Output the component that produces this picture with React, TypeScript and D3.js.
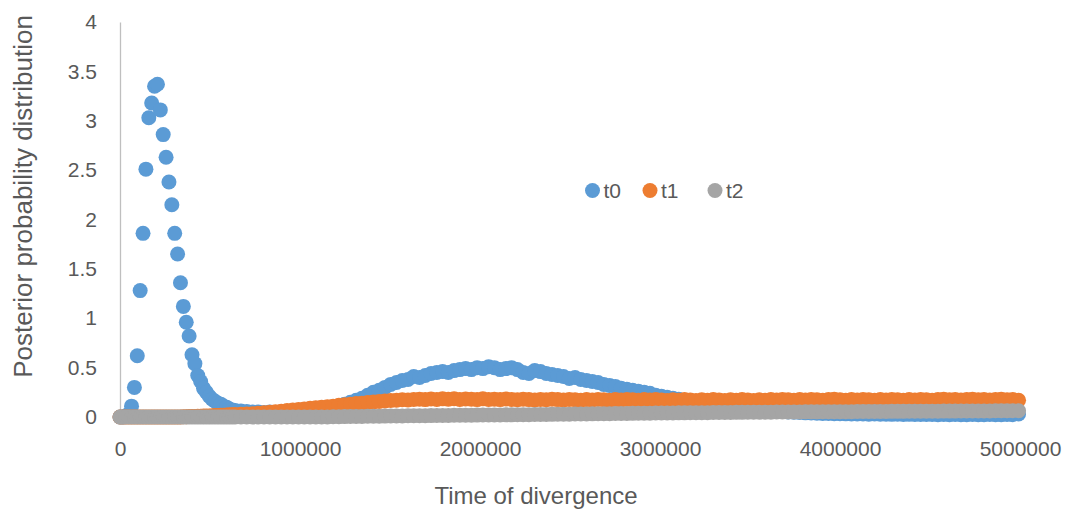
import * as d3 from "d3";
import { useEffect, useRef } from "react";

// time of divergence, in thousands (dense grid near the early peak, coarser after)
const timeThousands = [
  0, 16, 32, 48, 64, 80, 96, 112, 128, 144,
  160, 176, 192, 208, 224, 240, 256, 272, 288, 304,
  320, 336, 352, 368, 384, 400, 416, 432, 448, 464,
  480, 496, 512, 528, 544, 560, 576, 592, 608, 624,
  640,
  672, 704, 736, 768, 800, 832, 864, 896,
  928, 960, 992, 1024, 1056, 1088, 1120, 1152,
  1184, 1216, 1248, 1280, 1312, 1344, 1376, 1408,
  1440, 1472, 1504, 1536, 1568, 1600, 1632, 1664,
  1696, 1728, 1760, 1792, 1824, 1856, 1888, 1920,
  1952, 1984, 2016, 2048, 2080, 2112, 2144, 2176,
  2208, 2240, 2272, 2304, 2336, 2368, 2400, 2432,
  2464, 2496, 2528, 2560, 2592, 2624, 2656, 2688,
  2720, 2752, 2784, 2816, 2848, 2880, 2912, 2944,
  2976, 3008, 3040, 3072, 3104, 3136, 3168, 3200,
  3232, 3264, 3296, 3328, 3360, 3392, 3424, 3456,
  3488, 3520, 3552, 3584, 3616, 3648, 3680, 3712,
  3744, 3776, 3808, 3840, 3872, 3904, 3936, 3968,
  4000, 4032, 4064, 4096, 4128, 4160, 4192, 4224,
  4256, 4288, 4320, 4352, 4384, 4416, 4448, 4480,
  4512, 4544, 4576, 4608, 4640, 4672, 4704, 4736,
  4768, 4800, 4832, 4864, 4896, 4928, 4960, 4992,
];

const t0Values = [
  0, 0, 0.01, 0.03, 0.11, 0.30, 0.62, 1.28, 1.86, 2.51,
  3.03, 3.18, 3.35, 3.37, 3.11, 2.86, 2.63, 2.38, 2.15, 1.86,
  1.65, 1.36, 1.12, 0.96, 0.82, 0.63, 0.54, 0.42, 0.36, 0.29,
  0.25, 0.21, 0.18, 0.16, 0.14, 0.13, 0.11, 0.10, 0.08, 0.07,
  0.065,
  0.06, 0.055, 0.05, 0.05, 0.045, 0.05, 0.045, 0.05,
  0.05, 0.05, 0.055, 0.05, 0.055, 0.06, 0.065, 0.075,
  0.09, 0.11, 0.13, 0.15, 0.17, 0.19, 0.22, 0.25,
  0.27, 0.30, 0.33, 0.35, 0.37, 0.38, 0.41, 0.40,
  0.42, 0.44, 0.45, 0.46, 0.45, 0.47, 0.48, 0.49,
  0.48, 0.50, 0.49, 0.51, 0.50, 0.48, 0.49, 0.50,
  0.48, 0.45, 0.44, 0.47, 0.46, 0.44, 0.43, 0.42,
  0.41, 0.39, 0.40, 0.38, 0.37, 0.36, 0.35, 0.33,
  0.32, 0.31, 0.29, 0.28, 0.27, 0.26, 0.25, 0.24,
  0.22, 0.21, 0.20, 0.19, 0.18, 0.17, 0.16, 0.155,
  0.145, 0.135, 0.13, 0.12, 0.11, 0.105, 0.10, 0.09,
  0.085, 0.08, 0.075, 0.07, 0.065, 0.06, 0.055, 0.05,
  0.048, 0.045, 0.042, 0.04, 0.038, 0.036, 0.035, 0.034,
  0.033, 0.032, 0.03, 0.031, 0.03, 0.029, 0.03, 0.028,
  0.028, 0.027, 0.028, 0.026, 0.027, 0.025, 0.026, 0.025,
  0.025, 0.024, 0.026, 0.024, 0.025, 0.023, 0.024, 0.025,
  0.024, 0.023, 0.025, 0.024, 0.023, 0.025, 0.024, 0.03,
];

const t1Values = [
  0, 0, 0, 0, 0, 0, 0, 0, 0, 0,
  0, 0, 0, 0, 0, 0, 0, 0, 0, 0,
  0, 0.001, 0.002, 0.003, 0.004, 0.005, 0.006, 0.007, 0.008, 0.009,
  0.01, 0.011, 0.012, 0.014, 0.016, 0.017, 0.018, 0.02, 0.022, 0.024,
  0.025,
  0.027, 0.03, 0.034, 0.038, 0.042, 0.047, 0.052, 0.058,
  0.065, 0.07, 0.076, 0.082, 0.088, 0.094, 0.10, 0.105,
  0.11, 0.118, 0.124, 0.13, 0.136, 0.14, 0.148, 0.152,
  0.158, 0.162, 0.168, 0.17, 0.175, 0.172, 0.178, 0.18,
  0.176, 0.182, 0.178, 0.184, 0.18, 0.186, 0.178, 0.182,
  0.18, 0.176, 0.184, 0.178, 0.18, 0.176, 0.182, 0.178,
  0.175, 0.18, 0.176, 0.172, 0.178, 0.174, 0.18, 0.176,
  0.172, 0.178, 0.174, 0.17, 0.176, 0.172, 0.178, 0.174,
  0.17, 0.176, 0.172, 0.178, 0.174, 0.17, 0.176, 0.172,
  0.178, 0.172, 0.168, 0.174, 0.17, 0.176, 0.172, 0.168,
  0.174, 0.17, 0.176, 0.172, 0.168, 0.174, 0.17, 0.176,
  0.172, 0.168, 0.174, 0.17, 0.176, 0.172, 0.178, 0.174,
  0.17, 0.176, 0.172, 0.178, 0.174, 0.17, 0.176, 0.18,
  0.174, 0.17, 0.176, 0.172, 0.178, 0.174, 0.17, 0.176,
  0.172, 0.178, 0.174, 0.17, 0.176, 0.172, 0.178, 0.174,
  0.17, 0.176, 0.18, 0.174, 0.178, 0.172, 0.176, 0.18,
  0.174, 0.178, 0.172, 0.176, 0.18, 0.174, 0.178, 0.17,
];

const t2Values = [
  0, 0, 0, 0, 0, 0, 0, 0, 0, 0,
  0, 0, 0, 0, 0, 0, 0, 0, 0, 0,
  0, 0, 0, 0, 0, 0, 0, 0, 0, 0,
  0, 0, 0, 0, 0, 0, 0, 0, 0, 0,
  0,
  0, 0, 0, 0, 0, 0, 0, 0,
  0, 0, 0, 0, 0, 0, 0, 0,
  0.002, 0.003, 0.004, 0.005, 0.006, 0.006, 0.007, 0.008,
  0.008, 0.009, 0.01, 0.01, 0.011, 0.012, 0.012, 0.013,
  0.013, 0.014, 0.015, 0.015, 0.016, 0.017, 0.017, 0.018,
  0.018, 0.019, 0.02, 0.02, 0.021, 0.021, 0.022, 0.022,
  0.023, 0.024, 0.024, 0.025, 0.026, 0.026, 0.027, 0.028,
  0.028, 0.029, 0.03, 0.031, 0.031, 0.032, 0.033, 0.034,
  0.034, 0.035, 0.036, 0.036, 0.037, 0.038, 0.038, 0.039,
  0.04, 0.04, 0.041, 0.041, 0.042, 0.042, 0.043, 0.043,
  0.044, 0.044, 0.045, 0.045, 0.046, 0.046, 0.047, 0.047,
  0.048, 0.048, 0.048, 0.049, 0.049, 0.05, 0.05, 0.05,
  0.051, 0.051, 0.052, 0.052, 0.052, 0.053, 0.053, 0.053,
  0.054, 0.054, 0.054, 0.055, 0.055, 0.055, 0.056, 0.056,
  0.056, 0.057, 0.057, 0.057, 0.058, 0.058, 0.058, 0.059,
  0.059, 0.059, 0.06, 0.06, 0.06, 0.061, 0.061, 0.061,
  0.062, 0.062, 0.062, 0.063, 0.063, 0.063, 0.064, 0.064,
];

const seriesNames = ["t0", "t1", "t2"];
const seriesColors = ["#5B9BD5", "#ED7D31", "#A5A5A5"];
const xTicks = [0, 1000000, 2000000, 3000000, 4000000, 5000000];
const yTicks = [0, 0.5, 1, 1.5, 2, 2.5, 3, 3.5, 4];

const FONT = "'Liberation Sans', Arial, sans-serif";
const TEXT = "#595959";

export default function App() {
  const refSvg = useRef<SVGSVGElement>(null);

  useEffect(() => {
    const margin = { top: 22, left: 120, right: 52, bottom: 97 };
    const svgWidth = 1072;
    const svgHeight = 514;
    const width = svgWidth - margin.left - margin.right;
    const height = svgHeight - margin.top - margin.bottom;

    const svg = d3.select(refSvg.current);
    svg.selectAll("*").remove();

    const g = svg.append("g")
      .attr("transform", `translate(${margin.left},${margin.top})`);

    //    ---------------   SCALES  ------------------------

    const X = d3.scaleLinear().domain([0, 5000000]).range([0, width]);
    const Y = d3.scaleLinear().domain([0, 4]).range([height, 0]);

    //    ---------------   AXES  ------------------------

    const gx = g.append("g")
      .attr("transform", `translate(0,${height})`)
      .call(
        d3.axisBottom(X)
          .tickValues(xTicks)
          .tickSize(0)
          .tickPadding(24)
          .tickFormat(d3.format("d"))
      );

    const gy = g.append("g")
      .call(
        d3.axisLeft(Y)
          .tickValues(yTicks)
          .tickSize(0)
          .tickPadding(23)
          .tickFormat((d) => String(d))
      );

    [gx, gy].forEach((ax) => {
      ax.select(".domain").attr("stroke", "#BFBFBF").attr("stroke-width", 1.3);
      ax.selectAll("text")
        .attr("fill", TEXT)
        .style("font-family", FONT)
        .style("font-size", "21px");
    });

    //   -----------------------   DATA POINTS   ------------------------

    const series = [t0Values, t1Values, t2Values];

    series.forEach((values, s) => {
      g.append("g")
        .selectAll("circle")
        .data(values)
        .join("circle")
        .attr("cx", (d, i) => X(timeThousands[i] * 1000))
        .attr("cy", (d) => Y(d))
        .attr("r", 7.5)
        .attr("fill", seriesColors[s]);
    });

    //   -----------------------   LEGEND   ------------------------

    const legendX = [592.5, 650, 715];
    const legend = svg.append("g");
    seriesNames.forEach((name, s) => {
      legend.append("circle")
        .attr("cx", legendX[s])
        .attr("cy", 190.5)
        .attr("r", 7.5)
        .attr("fill", seriesColors[s]);
      legend.append("text")
        .text(name)
        .attr("x", legendX[s] + 11)
        .attr("y", 198)
        .attr("fill", TEXT)
        .style("font-family", FONT)
        .style("font-size", "21px");
    });

    //   -----------------------   TITLES   ------------------------

    svg.append("text")
      .text("Time of divergence")
      .attr("x", 536)
      .attr("y", 504)
      .attr("text-anchor", "middle")
      .attr("fill", TEXT)
      .style("font-family", FONT)
      .style("font-size", "24px");

    svg.append("text")
      .text("Posterior probability distribution")
      .attr("transform", "translate(31.5,196.5) rotate(-90)")
      .attr("text-anchor", "middle")
      .attr("fill", TEXT)
      .style("font-family", FONT)
      .style("font-size", "26px");
  }, []);

  return (
    <svg
      ref={refSvg}
      width={1072}
      height={514}
      style={{ position: "absolute", left: 0, top: 0, background: "#ffffff" }}
    />
  );
}
